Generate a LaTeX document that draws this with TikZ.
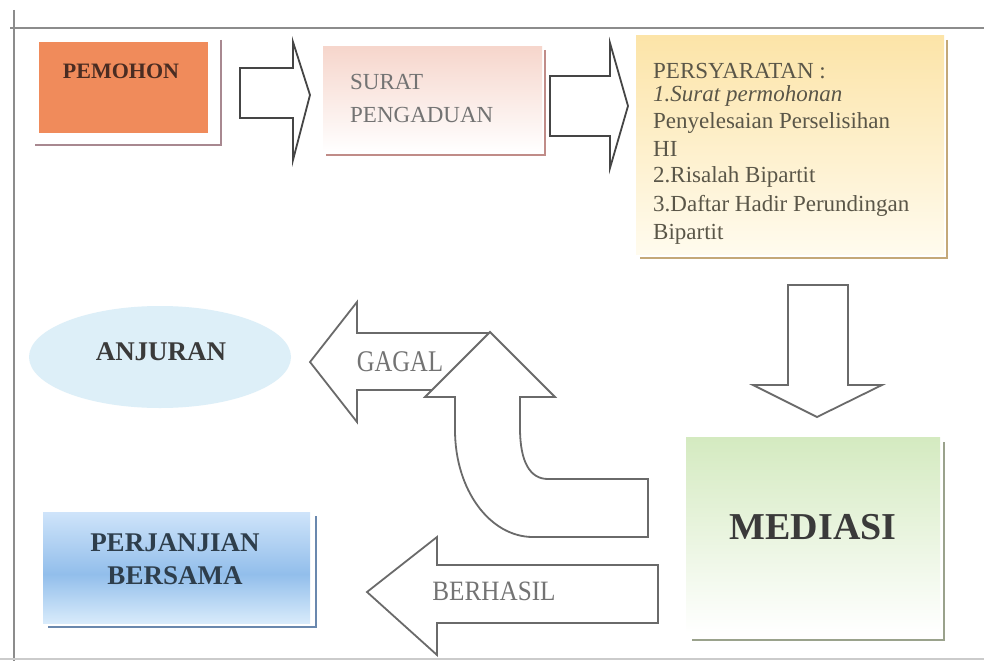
\documentclass[tikz,border=0pt]{standalone}
\usepackage{fontspec}
\setmainfont{Liberation Serif}
\usetikzlibrary{shapes.geometric}
\definecolor{framegray}{HTML}{8C8C8C}
\definecolor{arrowgray}{HTML}{6A6A6A}
\definecolor{darkarrow}{HTML}{454545}
\definecolor{pemfill}{HTML}{F08B5B}
\definecolor{pemshadow}{HTML}{A88890}
\definecolor{pemtext}{HTML}{4A2C22}
\definecolor{surtop}{HTML}{F6D6CC}
\definecolor{surshadow}{HTML}{C08C88}
\definecolor{persytop}{HTML}{FCE4A8}
\definecolor{persybot}{HTML}{FFFBEE}
\definecolor{persyshadow}{HTML}{C4A878}
\definecolor{medtop}{HTML}{D4EAC0}
\definecolor{medshadow}{HTML}{9AA28C}
\definecolor{pertop}{HTML}{CFE4FA}
\definecolor{permid}{HTML}{92BEEB}
\definecolor{perbot}{HTML}{D8EBFB}
\definecolor{pershadow}{HTML}{6A88AE}
\definecolor{pertext}{HTML}{2E3E4C}
\definecolor{anjfill}{HTML}{DDEFF8}
\definecolor{graytext}{HTML}{737373}
\definecolor{bodytext}{HTML}{5A5648}
\definecolor{boldtext}{HTML}{3A3A3A}
\pgfdeclareverticalshading{pershade}{100bp}{color(0bp)=(perbot); color(25bp)=(perbot); color(47bp)=(permid); color(75bp)=(pertop); color(100bp)=(pertop)}
\newcommand\setfsz[1]{\fontsize{#1}{#1}\selectfont}
\begin{document}
\begin{tikzpicture}[x=1pt,y=-1pt,
  box/.style={rectangle, inner sep=0pt, draw=none},
  lbl/.style={inner sep=0pt},
  blockarrow/.style={draw=arrowgray, line width=1.8pt, fill=white, line join=miter},
  headarrow/.style={draw=darkarrow, line width=1.8pt, fill=white, line join=miter},
  shadowline/.style={line width=2.6pt}]
\useasboundingbox (0,0) rectangle (984,661);
\fill[white] (0,0) rectangle (984,661);
% frame
\draw[framegray, line width=2.6pt] (10,28) -- (984,28);
\draw[framegray, line width=2pt] (14,10) -- (14,661);
\draw[framegray!45, line width=1.6pt] (0,659) -- (984,659);

% PEMOHON
\draw[pemshadow, shadowline] (221,40) -- (221,145) -- (35,145);
\node[box, fill=pemfill, minimum width=169pt, minimum height=91pt] (pem) at (123.5,87.5) {};
\node[lbl, text=pemtext, font=\setfsz{22}\bfseries] (pemt) at (121,71) {PEMOHON};

% arrow 1
\path[headarrow] (240,68) -- (293,68) -- (293,42) -- (310,95) -- (293,160) -- (293,118) -- (240,118) -- cycle;

% SURAT PENGADUAN
\draw[surshadow, shadowline] (545,50) -- (545,155) -- (326,155);
\node[box, top color=surtop, bottom color=white, minimum width=219pt, minimum height=105pt] (sur) at (432.5,99.5) {};
\node[lbl, anchor=west, text=graytext, font=\setfsz{23}] (sur1) at (350,82) {SURAT};
\node[lbl, anchor=west, text=graytext, font=\setfsz{23}] (sur2) at (350,115) {PENGADUAN};

% arrow 2
\path[headarrow] (550,76) -- (610,76) -- (610,43) -- (628,106) -- (610,168) -- (610,136) -- (550,136) -- cycle;

% PERSYARATAN
\draw[persyshadow, shadowline] (947,40) -- (947,258) -- (640,258);
\node[box, top color=persytop, bottom color=persybot, minimum width=308pt, minimum height=218pt] (persy) at (790,145) {};
\begin{scope}[every node/.style={lbl, anchor=west, text=bodytext, font=\setfsz{23}}]
\node (ps0) at (653,71) {PERSYARATAN :};
\node[font=\setfsz{23}\itshape] (ps1) at (653,96) {1.Surat permohonan};
\node (ps2) at (653,123) {Penyelesaian Perselisihan};
\node (ps3) at (653,149) {HI};
\node (ps4) at (653,177) {2.Risalah Bipartit};
\node (ps5) at (653,206) {3.Daftar Hadir Perundingan};
\node (ps6) at (653,234) {Bipartit};
\end{scope}

% down arrow
\path[blockarrow] (788,285) -- (848,285) -- (848,385) -- (882,385) -- (817,417) -- (753,385) -- (788,385) -- cycle;

% MEDIASI
\draw[medshadow, shadowline] (944,442) -- (944,640) -- (692,640);
\node[box, top color=medtop, bottom color=white, minimum width=254pt, minimum height=196pt] (med) at (813,535) {};
\node[lbl, text=boldtext, font=\setfsz{38}\bfseries] (medt) at (813,527) {MEDIASI};

% ANJURAN
\node[ellipse, inner sep=0pt, fill=anjfill, minimum width=262pt, minimum height=102pt] (anj) at (160,357) {};
\node[lbl, text=boldtext, font=\setfsz{27}\bfseries] (anjt) at (161,352) {ANJURAN};

% GAGAL arrow
\path[blockarrow] (310,362) -- (357,302) -- (357,333) -- (490,333) -- (490,390) -- (357,390) -- (357,422) -- cycle;
\node[lbl, text=graytext, font=\setfsz{30}, xscale=0.82] (gag) at (400,362) {GAGAL};

% curved up arrow
\path[blockarrow] (490,332) -- (555,397) -- (520,397) -- (520,428)
  .. controls (520,462) and (530,479) .. (548,479) -- (648,479) -- (648,537) -- (533,537)
  .. controls (490,537) and (455,490) .. (455,430) -- (455,397) -- (425,397) -- cycle;

% BERHASIL arrow
\path[blockarrow] (367,592) -- (437,537) -- (437,565) -- (658,565) -- (658,623) -- (437,623) -- (437,655) -- cycle;
\node[lbl, text=graytext, font=\setfsz{28}, xscale=0.9] (ber) at (494,591) {BERHASIL};

% PERJANJIAN BERSAMA
\draw[pershadow, shadowline] (316,516) -- (316,627) -- (48,627);
\node[box, shading=pershade, minimum width=267pt, minimum height=111pt] (per) at (176.5,567.5) {};
\node[lbl, text=pertext, font=\setfsz{27}\bfseries] (per1) at (175,543) {PERJANJIAN};
\node[lbl, text=pertext, font=\setfsz{27}\bfseries] (per2) at (175,576) {BERSAMA};
\end{tikzpicture}
\end{document}
